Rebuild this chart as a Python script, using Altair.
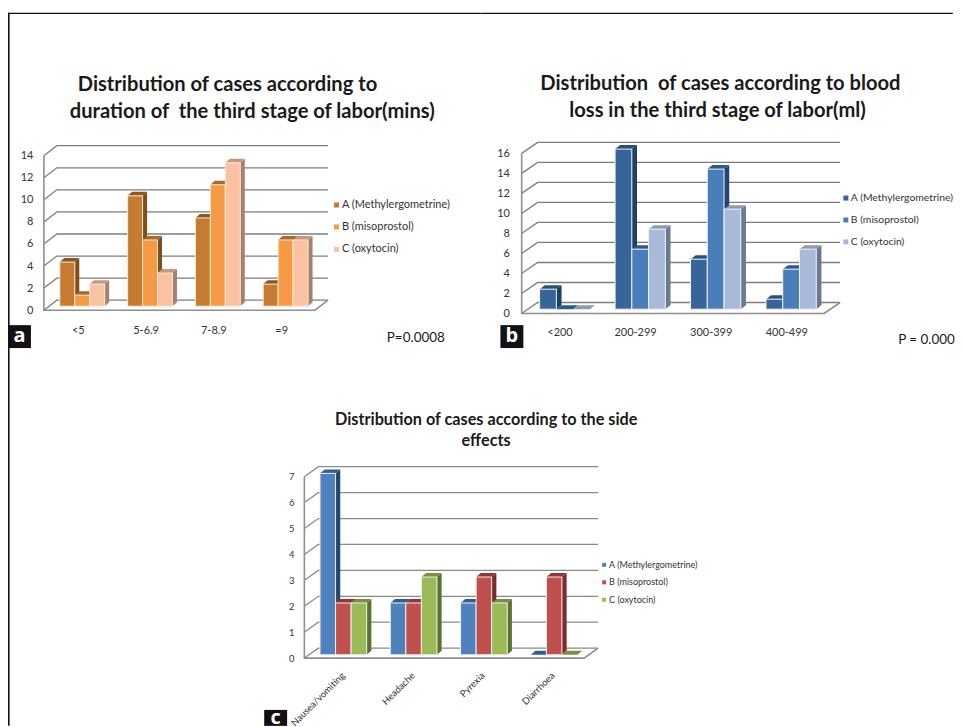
import altair as alt
import pandas as pd

series_names = ["A (Methylergometrine)", "B (misoprostol)", "C (oxytocin)"]

a_categories = ["<5", "5-6.9", "7-8.9", "=9"]
a_A = [4, 10, 8, 2]
a_B = [1, 6, 11, 6]
a_C = [2, 3, 13, 6]

b_categories = ["<200", "200-299", "300-399", "400-499"]
b_A = [2, 16, 5, 1]
b_B = [0, 6, 14, 4]
b_C = [0, 8, 10, 6]

c_categories = ["Nausea/vomiting", "Headache", "Pyrexia", "Diarrhoea"]
c_A = [7, 2, 2, 0]
c_B = [2, 2, 3, 3]
c_C = [2, 3, 2, 0]

BODY = "Lato"
NB = "\u00a0"


def blank():
    return alt.Chart(alt.InlineData(values=[{}]))


def text(s, x, y, ox, oy, size, bold=False, color="#1a1a1a", align="left", font=BODY):
    return blank().mark_text(
        fontSize=size, font=font, fontWeight="bold" if bold else "normal",
        color=color, align=align, baseline="middle",
    ).encode(x=alt.value(x - ox), y=alt.value(y - oy), text=alt.value(s))


def box(x0, x1, y0, y1, ox, oy, color="#111111"):
    return blank().mark_rect(color=color).encode(
        x=alt.value(x0 - ox), x2=alt.value(x1 - ox),
        y=alt.value(y0 - oy), y2=alt.value(y1 - oy))


def panel(p):
    ox, oy = p["ox"], p["oy"]
    fx0, fx1, fy0, fyt = p["fx0"], p["fx1"], p["fy0"], p["fyt"]
    ymax = p["ymax"]
    n = len(p["cats"])
    ux = (fx1 - fx0) / n
    uy = (fy0 - fyt) / ymax
    sx = alt.Scale(domain=[0, n], range=[fx0 - ox, fx1 - ox], nice=False, zero=False)
    sy = alt.Scale(domain=[0, ymax], range=[fy0 - oy, fyt - oy], nice=False, zero=False)
    dx, dy = p["dx"] / ux, p["dy"] / uy
    bdx, bdy = p["bdx"] / ux, p["bdy"] / uy
    base = (fy0 - p["base"]) / uy
    w = p["bw"] / ux

    grid_rows = []
    for v in range(0, ymax + 1, p["step"]):
        for o, (x, y) in enumerate([(0, v), (dx, v + dy), (n + dx, v + dy)]):
            grid_rows.append(dict(id=f"g{v}", o=o, x=x, y=y))
    frame_rows = []
    for o, (x, y) in enumerate([(0, ymax), (0, 0), (n, 0), (n + dx, dy)]):
        frame_rows.append(dict(id="f", o=o, x=x, y=y))

    poly = {s: {"side": [], "top": []} for s in range(3)}
    fronts = []
    for i in range(n):
        for s in range(3):
            v = p["vals"][s][i]
            L = (p["b0"] + p["pitch"] * i - fx0) / ux + s * w
            R = L + w
            top = v + base
            side = [(R, base, top), (R + bdx, base + bdy, top + bdy)]
            for x, y, y2 in side:
                poly[s]["side"].append(dict(id=f"{i}", x=x, y=y, y2=y2))
            tp = [(L, top, top), (L + bdx, top, top + bdy), (R, top, top + bdy),
                  (R + bdx, top + bdy, top + bdy)]
            for x, y, y2 in tp:
                poly[s]["top"].append(dict(id=f"{i}", x=x, y=y, y2=y2))
            if v > 0:
                fronts.append(dict(x=L, x2=R, y=base, y2=top, c=p["front"][s]))

    expr = "[" + ",".join(repr(c) for c in p["cats"]) + "][floor(datum.value)]"
    xaxis = alt.Axis(
        values=[i + 0.5 for i in range(n)], labelExpr=expr, domain=False, ticks=False,
        grid=False, title=None, labelFont=BODY, labelFontSize=p["xfont"], labelColor="#333333",
        labelPadding=0, labelAngle=p["xangle"], labelAlign=p["xalign"],
        labelBaseline=p["xbaseline"], labelOverlap=False, labelFlush=False, labelBound=False,
        offset=-(p["H"] - (p["xlab"] - oy)))
    yaxis = alt.Axis(
        values=list(range(0, ymax + 1, p["step"])), domain=False, ticks=False, grid=False,
        title=None, labelFont=BODY, labelFontSize=p["yfont"], labelColor="#333333",
        labelPadding=0, labelOverlap=False, labelFlush=False, labelBound=False,
        offset=-(p["ylab"] - ox))

    X = alt.X("x:Q", scale=sx, axis=xaxis)
    Y = alt.Y("y:Q", scale=sy, axis=yaxis)

    grid = alt.Chart(pd.DataFrame(grid_rows)).mark_line(
        color=p["grid"], strokeWidth=1.3).encode(x=X, y=Y, detail="id:N", order="o:Q")
    frame = alt.Chart(pd.DataFrame(frame_rows)).mark_line(
        color="#8f8f8f", strokeWidth=1.6).encode(x=X, y=Y, detail="id:N", order="o:Q")
    faces = []
    for s in range(3):
        for kind in ("side", "top"):
            faces.append(
                alt.Chart(pd.DataFrame(poly[s][kind])).mark_area(
                    orient="vertical", color=p[kind][s], opacity=1
                ).encode(x=X, y=Y, y2="y2:Q", detail="id:N")
            )
    front = alt.Chart(pd.DataFrame(fronts)).mark_rect(
        stroke=p["edge"], strokeWidth=1).encode(
        x=X, x2="x2:Q", y=Y, y2="y2:Q",
        color=alt.Color("c:N", scale=None))

    extras = []
    for s, name in enumerate(series_names):
        ly = p["leg_y"][s]
        extras.append(box(p["leg_sq"], p["leg_sq"] + p["leg_box"], ly - p["leg_box"] / 2,
                          ly + p["leg_box"] / 2, ox, oy, p["front"][s]))
        extras.append(text(name, p["leg_x"], ly, ox, oy, p["leg_font"], color="#333333"))
    for b in p["boxes"]:
        extras.append(box(*b, ox, oy))
    for t in p["texts"]:
        extras.append(text(*t[:3], ox, oy, *t[3:]))
    return alt.layer(grid, frame, *faces, front, *extras).properties(
        width=p["W"], height=p["H"])


pa = dict(
    ox=8, oy=8, W=474, H=372, cats=a_categories, vals=[a_A, a_B, a_C], ymax=14, step=2,
    fx0=44, fx1=316, fy0=310, fyt=155, dx=13, dy=10, bdx=4.5, bdy=4, base=306,
    b0=60, pitch=68, bw=15, grid="#7d7d7d", edge="#f6e9cf",
    front=["#C67B33", "#F79A45", "#FAC2A2"], side=["#7F4E1D", "#7F4E1D", "#A67F6D"],
    top=["#8C5722", "#A8692C", "#C29A84"],
    xlab=330, xfont=11, xangle=0, xalign="center", xbaseline="middle",
    ylab=33, yfont=11,
    leg_sq=335, leg_box=5, leg_x=343, leg_font=11, leg_y=[204.5, 226.5, 249],
    texts=[
        ("Distribution of cases according to", 78, 84, 20.2, True),
        (f"duration of{NB} the third stage of labor(mins)", 70, 111, 20.2, True),
        ("P=0.0008", 388, 338, 13.5),
        ("a", 19.5, 336, 20, True, "#ffffff", "center", "Open Sans"),
    ],
    boxes=[(8, 31, 325, 348), (8, 482, 11.5, 13), (8, 9.6, 11.5, 380)],
)

pb = dict(
    ox=482, oy=8, W=474, H=372, cats=b_categories, vals=[b_A, b_B, b_C], ymax=16, step=2,
    fx0=523.3, fx1=826.7, fy0=313.3, fyt=152.7, dx=16, dy=11, bdx=5.2, bdy=4, base=309,
    b0=541.3, pitch=75.7, bw=16.8, grid="#7d7d7d", edge="#eef2f8",
    front=["#376599", "#4A7EBB", "#A9BAD8"], side=["#1F3F63", "#24456F", "#6B7A90"],
    top=["#2A5078", "#2E5B8E", "#8C9AB4"],
    xlab=332, xfont=11, xangle=0, xalign="center", xbaseline="middle",
    ylab=511, yfont=11,
    leg_sq=846, leg_box=5, leg_x=853.5, leg_font=10.4, leg_y=[197.5, 219.5, 241.5],
    texts=[
        (f"Distribution{NB} of cases according to blood", 542, 83, 20.2, True),
        ("loss in the third stage of labor(ml)", 571, 110, 20.2, True),
        ("P = 0.000", 901, 340, 13.5),
        ("b", 513.5, 336, 20, True, "#ffffff", "center", "Open Sans"),
    ],
    boxes=[(502, 525, 325, 348), (482, 955.8, 11.5, 13)],
)

pc = dict(
    ox=8, oy=380, W=474, H=347, cats=c_categories, vals=[c_A, c_B, c_C], ymax=7, step=1,
    fx0=305.3, fx1=586, fy0=659, fyt=477, dx=14, dy=10, bdx=4.7, bdy=4, base=655.7,
    b0=321, pitch=70.5, bw=15.6, grid="#8a8a8a", edge="#eef0f4",
    front=["#4F81BD", "#C0504D", "#9BBB59"], side=["#23466E", "#7A2B2A", "#5B7330"],
    top=["#2F5F94", "#933533", "#789040"],
    xlab=671, xfont=9.5, xangle=-45, xalign="right", xbaseline="top",
    ylab=295, yfont=9.5,
    leg_sq=604, leg_box=4, leg_x=611, leg_font=9, leg_y=[565.5, 583, 600.5],
    texts=[
        ("Distribution of cases according to the side", 336, 420, 16.3, True),
        ("effects", 463, 441, 16.3, True),
        ("c", 276.5, 719, 20, True, "#ffffff", "center", "Open Sans"),
    ],
    boxes=[(265, 288, 711, 727), (8, 9.6, 380, 727)],
)

chart = alt.concat(panel(pa), panel(pb), panel(pc), columns=2, spacing=0, bounds="flush").properties(
    padding=0, background="#ffffff"
).configure_view(stroke=None)

chart.save("out.html", embed_options={"renderer": "svg", "actions": False})
